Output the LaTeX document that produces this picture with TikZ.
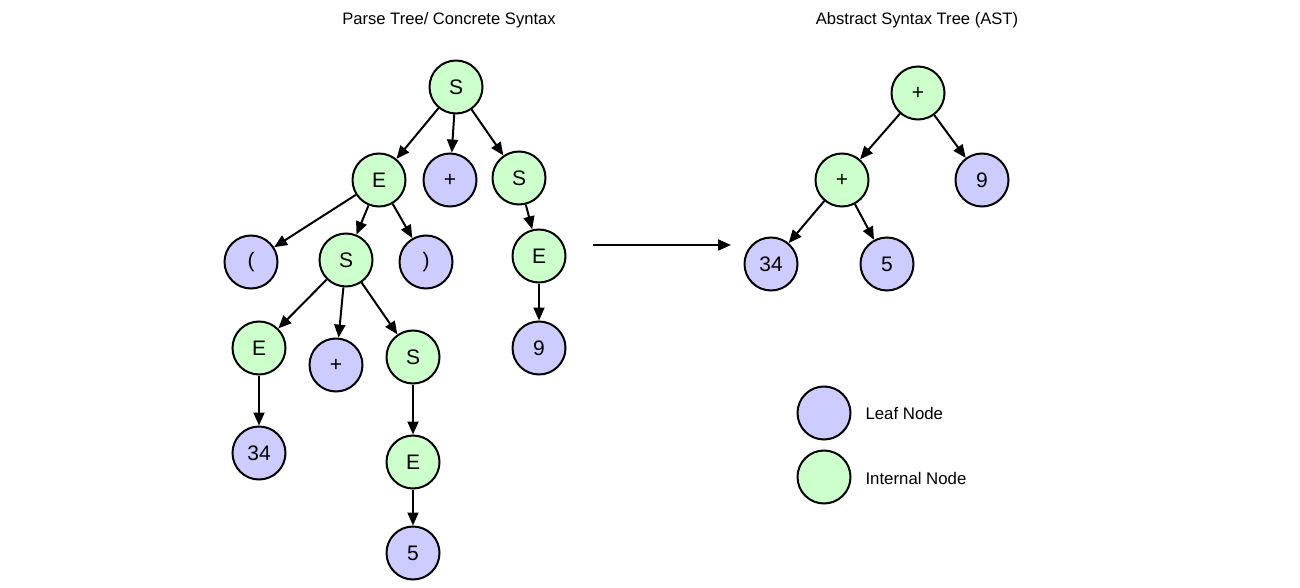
\documentclass[tikz,border=0pt]{standalone}
\usepackage{fontspec}
\setmainfont{Liberation Sans}
\usetikzlibrary{arrows.meta}
\definecolor{leafc}{RGB}{204,204,255}
\definecolor{intc}{RGB}{204,255,204}
\begin{document}
\begin{tikzpicture}[x=1pt,y=-1pt,
  nd/.style={circle,draw=black,line width=2pt,minimum size=53pt,inner sep=0pt,font=\fontsize{21}{21}\selectfont},
  leaf/.style={nd,fill=leafc},
  internal/.style={nd,fill=intc},
  edge/.style={line width=2pt,-{Triangle[length=13pt,width=11pt]}},
  ttl/.style={font=\fontsize{16.6}{17}\selectfont},
  lbl/.style={font=\fontsize{16.8}{17}\selectfont,anchor=west}]
\useasboundingbox[fill=white] (0,0) rectangle (1300,588);
\node[ttl] (t1) at (449,20) {Parse Tree/ Concrete Syntax};
\node[ttl] (t2) at (917,20) {Abstract Syntax Tree (AST)};
% parse tree
\node[internal] (s0) at (456,87) {S};
\node[internal] (e1) at (379,180) {E};
\node[leaf] (p1) at (450,180) {+};
\node[internal] (s1) at (519,178) {S};
\node[leaf] (lp) at (251,262) {(};
\node[internal] (s2) at (346,260) {S};
\node[leaf] (rp) at (426,262) {)};
\node[internal] (e2) at (539,256) {E};
\node[internal] (e3) at (259,348) {E};
\node[leaf] (p2) at (336,365) {+};
\node[internal] (s3) at (413,357) {S};
\node[leaf] (n9) at (539,348) {9};
\node[leaf] (n34) at (259,453) {34};
\node[internal] (e4) at (413,462) {E};
\node[leaf] (n5) at (413,553) {5};
\draw[edge] (s0) -- (e1);
\draw[edge] (s0) -- (p1);
\draw[edge] (s0) -- (s1);
\draw[edge] (e1) -- (lp);
\draw[edge] (e1) -- (s2);
\draw[edge] (e1) -- (rp);
\draw[edge] (s1) -- (e2);
\draw[edge] (e2) -- (n9);
\draw[edge] (s2) -- (e3);
\draw[edge] (s2) -- (p2);
\draw[edge] (s2) -- (s3);
\draw[edge] (e3) -- (n34);
\draw[edge] (s3) -- (e4);
\draw[edge] (e4) -- (n5);
% transform arrow
\coordinate (a1) at (593,245);
\coordinate (a2) at (731,245);
\draw[edge] (a1) -- (a2);
% AST
\node[internal] (ap0) at (918,93) {+};
\node[internal] (ap1) at (842,180) {+};
\node[leaf] (a9) at (982,180) {9};
\node[leaf] (a34) at (771,264) {34};
\node[leaf] (a5) at (887,264) {5};
\draw[edge] (ap0) -- (ap1);
\draw[edge] (ap0) -- (a9);
\draw[edge] (ap1) -- (a34);
\draw[edge] (ap1) -- (a5);
% legend
\node[leaf] (lg1) at (824,413) {};
\node[internal] (lg2) at (824,477) {};
\node[lbl] (lt1) at (862,413) {Leaf Node};
\node[lbl] (lt2) at (862,478) {Internal Node};
\end{tikzpicture}
\end{document}
